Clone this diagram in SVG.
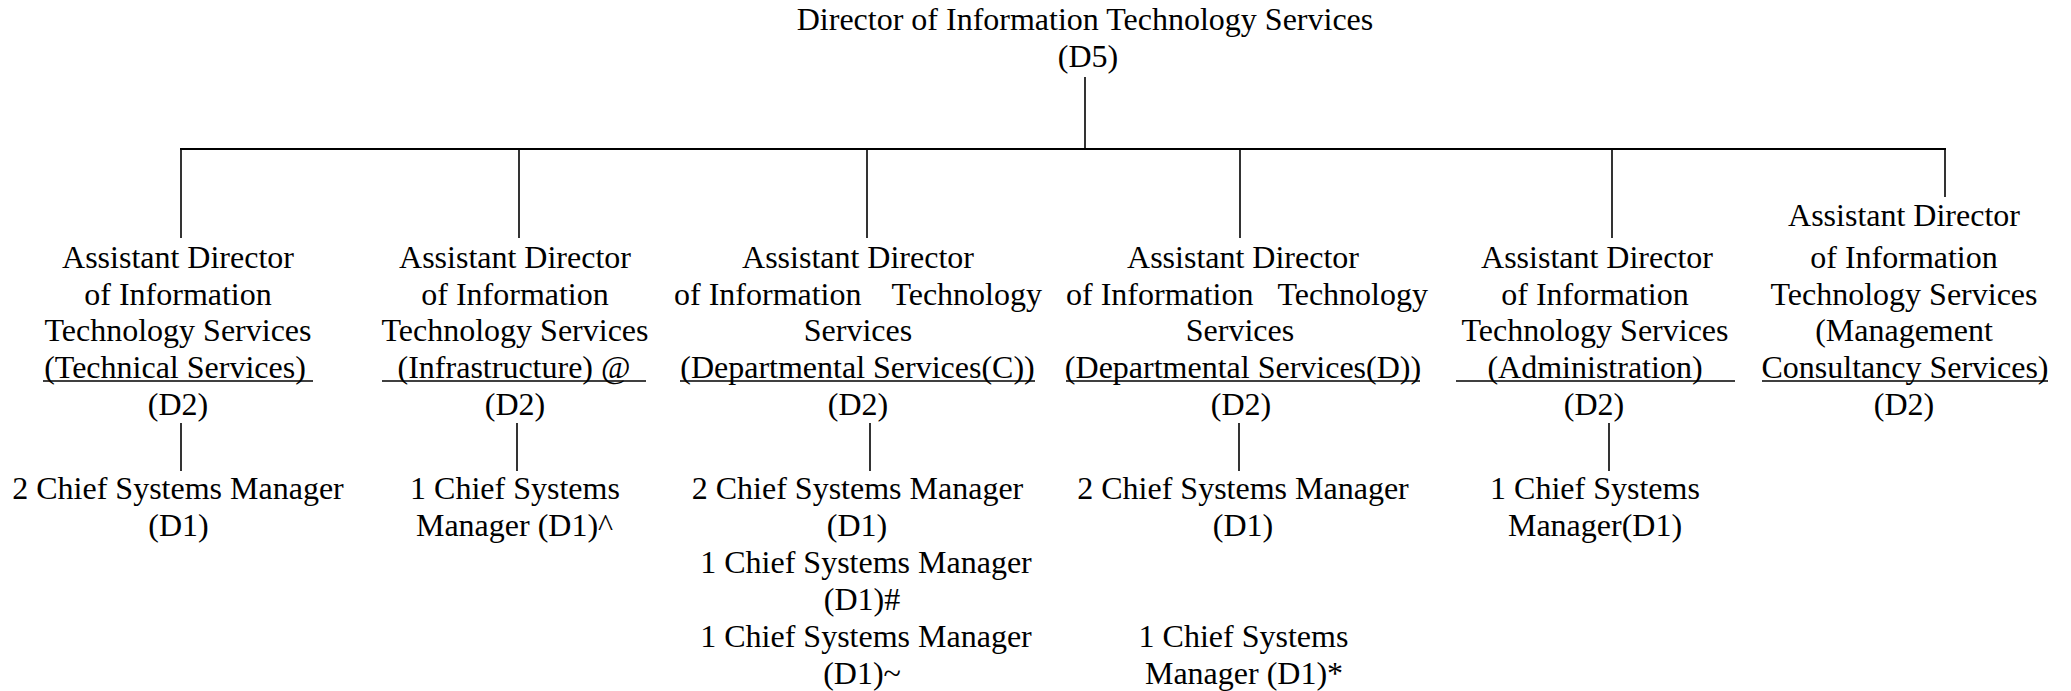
<svg xmlns="http://www.w3.org/2000/svg" width="2071" height="691" viewBox="0 0 2071 691">
<style>
text{font-family:"Liberation Serif","Times New Roman",serif;font-size:32px;fill:#000;text-anchor:middle}
.l{stroke:#000;stroke-width:1.6;fill:none}
.h{stroke:#000;stroke-width:2.2;fill:none}
.u{stroke:#000;stroke-width:1.5;fill:none}
</style>
<rect width="2071" height="691" fill="#fff"/>
<g id="connectors">
<line class="l" x1="1085" y1="77" x2="1085" y2="149"/>
<line class="h" x1="180" y1="149" x2="1946" y2="149"/>
<line class="l" x1="181" y1="149" x2="181" y2="238"/>
<line class="l" x1="519" y1="149" x2="519" y2="238"/>
<line class="l" x1="867" y1="149" x2="867" y2="238"/>
<line class="l" x1="1240" y1="149" x2="1240" y2="238"/>
<line class="l" x1="1612" y1="149" x2="1612" y2="238"/>
<line class="l" x1="1945" y1="149" x2="1945" y2="197"/>
<line class="l" x1="181" y1="423" x2="181" y2="471"/>
<line class="l" x1="517" y1="423" x2="517" y2="471"/>
<line class="l" x1="870" y1="423" x2="870" y2="471"/>
<line class="l" x1="1239" y1="423" x2="1239" y2="471"/>
<line class="l" x1="1609" y1="423" x2="1609" y2="471"/>
</g>
<g id="director">
<text x="1085" y="30">Director of Information Technology Services</text>
<text x="1088" y="67">(D5)</text>
</g>
<g id="ad-technical">
<text x="178" y="267.5">Assistant Director</text>
<text x="178" y="304.5">of Information</text>
<text x="178" y="341">Technology Services</text>
<text x="175" y="378">(Technical Services)</text>
<line class="u" x1="43" y1="381" x2="313" y2="381"/>
<text x="178" y="415">(D2)</text>
</g>
<g id="ad-infrastructure">
<text x="515" y="267.5">Assistant Director</text>
<text x="515" y="304.5">of Information</text>
<text x="515" y="341">Technology Services</text>
<text x="514" y="378">(Infrastructure) @</text>
<line class="u" x1="382" y1="381" x2="646" y2="381"/>
<text x="515" y="415">(D2)</text>
</g>
<g id="ad-departmental-c">
<text x="858" y="267.5">Assistant Director</text>
<text x="674" y="304.5" style="text-anchor:start">of Information</text>
<text x="1042" y="304.5" style="text-anchor:end">Technology</text>
<text x="858" y="341">Services</text>
<text x="857.5" y="378">(Departmental Services(C))</text>
<line class="u" x1="680" y1="381" x2="1035" y2="381"/>
<text x="858" y="415">(D2)</text>
</g>
<g id="ad-departmental-d">
<text x="1243" y="267.5">Assistant Director</text>
<text x="1066" y="304.5" style="text-anchor:start">of Information</text>
<text x="1428" y="304.5" style="text-anchor:end">Technology</text>
<text x="1240" y="341">Services</text>
<text x="1243" y="378">(Departmental Services(D))</text>
<line class="u" x1="1066" y1="381" x2="1420" y2="381"/>
<text x="1241" y="415">(D2)</text>
</g>
<g id="ad-administration">
<text x="1597" y="267.5">Assistant Director</text>
<text x="1595" y="304.5">of Information</text>
<text x="1595" y="341">Technology Services</text>
<text x="1595" y="378">(Administration)</text>
<line class="u" x1="1456" y1="381" x2="1735" y2="381"/>
<text x="1594" y="415">(D2)</text>
</g>
<g id="ad-management">
<text x="1904" y="225.5">Assistant Director</text>
<text x="1904" y="267.5">of Information</text>
<text x="1904" y="304.5">Technology Services</text>
<text x="1904" y="341">(Management</text>
<text x="1905" y="378">Consultancy Services)</text>
<line class="u" x1="1762" y1="381" x2="2048" y2="381"/>
<text x="1904" y="415">(D2)</text>
</g>
<g id="csm-technical">
<text x="178" y="499">2 Chief Systems Manager</text>
<text x="178.5" y="536">(D1)</text>
</g>
<g id="csm-infrastructure">
<text x="515" y="499">1 Chief Systems</text>
<text x="514.5" y="536">Manager (D1)^</text>
</g>
<g id="csm-departmental-c">
<text x="857.5" y="499">2 Chief Systems Manager</text>
<text x="857" y="536">(D1)</text>
<text x="866" y="573">1 Chief Systems Manager</text>
<text x="862" y="610">(D1)#</text>
<text x="866" y="647">1 Chief Systems Manager</text>
<text x="862" y="684">(D1)~</text>
</g>
<g id="csm-departmental-d">
<text x="1243" y="499">2 Chief Systems Manager</text>
<text x="1243" y="536">(D1)</text>
<text x="1243.5" y="647">1 Chief Systems</text>
<text x="1244" y="684">Manager (D1)*</text>
</g>
<g id="csm-administration">
<text x="1595" y="499">1 Chief Systems</text>
<text x="1595" y="536">Manager(D1)</text>
</g>
</svg>
